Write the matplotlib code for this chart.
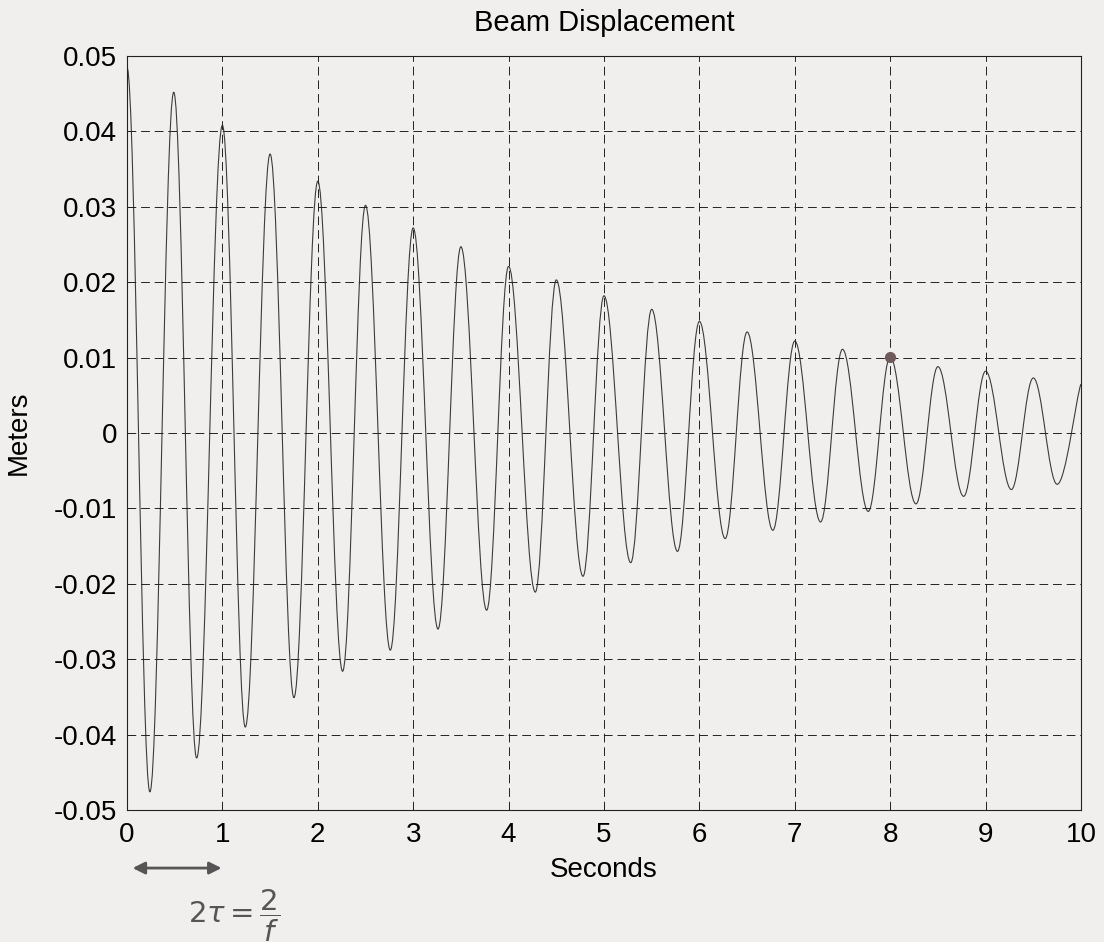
import matplotlib
matplotlib.use("Agg")
import matplotlib.pyplot as plt
from matplotlib.path import Path
from matplotlib.patches import PathPatch
import numpy as np

# peaks / troughs of the trace
peak_t = [0.0, 0.49, 1.00, 1.50, 2.00, 2.50, 3.00, 3.50, 4.00, 4.50,
          5.00, 5.50, 6.00, 6.50, 7.00, 7.50, 8.00, 8.50, 9.00, 9.50]
peak_v = [0.0485, 0.0452, 0.0408, 0.0370, 0.0334, 0.0302, 0.0272, 0.0247, 0.0221, 0.0203,
          0.0182, 0.0164, 0.0148, 0.0134, 0.0122, 0.0111, 0.0101, 0.0088, 0.0082, 0.0073]
trough_t = [0.24, 0.73, 1.24, 1.75, 2.26, 2.76, 3.26, 3.77, 4.28, 4.78,
            5.28, 5.77, 6.27, 6.77, 7.27, 7.77, 8.27, 8.77, 9.27, 9.75]
trough_v = [-0.0476, -0.0431, -0.0390, -0.0351, -0.0316, -0.0288, -0.0260, -0.0235, -0.0211, -0.0190,
            -0.0172, -0.0157, -0.0140, -0.0129, -0.0118, -0.0104, -0.0094, -0.0084, -0.0075, -0.0068]
# where the trace stops at the right edge (still rising)
end_t = [10.0]
end_v = [0.0065]

# hand-marked point
mark_t = [8.0]
mark_v = [0.0101]

xticks = list(range(0, 11))
yticks = [-0.05, -0.04, -0.03, -0.02, -0.01, 0, 0.01, 0.02, 0.03, 0.04, 0.05]
ytick_labels = ['-0.05', '-0.04', '-0.03', '-0.02', '-0.01', '0',
                '0.01', '0.02', '0.03', '0.04', '0.05']

paper = '#f0efed'
plt.rcParams['font.family'] = ['Liberation Sans', 'DejaVu Sans']
plt.rcParams['font.size'] = 20

fig = plt.figure(figsize=(11.04, 9.42), dpi=100, facecolor=paper)
W, H = 1104, 942
ax = fig.add_axes([127 / W, 1 - 810 / H, (1081 - 127) / W, (810 - 56) / H])
ax.set_facecolor(paper)

t = np.array(peak_t + trough_t)
v = np.array(peak_v + trough_v)
order = np.argsort(t)
t, v = t[order], v[order]

# smooth the trace between extremes with cubic curves (flat at each extreme)
verts = [(t[0], v[0])]
codes = [Path.MOVETO]
for i in range(len(t) - 1):
    dt = t[i + 1] - t[i]
    verts += [(t[i] + 0.363 * dt, v[i]), (t[i + 1] - 0.363 * dt, v[i + 1]), (t[i + 1], v[i + 1])]
    codes += [Path.CURVE4] * 3
dt = end_t[0] - t[-1]
verts += [(t[-1] + 0.363 * dt, v[-1]), (end_t[0] - 0.2 * dt, end_v[0] - 0.0015), (end_t[0], end_v[0])]
codes += [Path.CURVE4] * 3
ax.add_patch(PathPatch(Path(verts, codes), fill=False, edgecolor='#3c3c3c', lw=0.8))
ax.plot(mark_t, mark_v, 'o', color='#6e5a5a', ms=7, zorder=5)

ax.set_xlim(0, 10)
ax.set_ylim(-0.05, 0.05)
ax.set_xticks(xticks)
ax.set_yticks(yticks)
ax.set_yticklabels(ytick_labels)
ax.grid(True, color='#222222', lw=0.7, ls=(0, (9, 5)))
ax.tick_params(direction='in', length=5, width=0.7, color='#222222')
ax.tick_params(axis='x', pad=9)
ax.tick_params(axis='y', pad=7)
for s in ax.spines.values():
    s.set_linewidth(0.8)
    s.set_color('#222222')

ax.set_title('Beam Displacement', pad=18, fontsize=21)
ax.set_xlabel('Seconds', labelpad=6)
ax.set_ylabel('Meters')
ax.yaxis.set_label_coords(-0.10, 0.5)

# handwritten note under the axis
ax.annotate('', xy=(1.02, -0.077), xytext=(0.03, -0.077),
            xycoords=ax.get_xaxis_transform(), textcoords=ax.get_xaxis_transform(),
            arrowprops=dict(arrowstyle='<|-|>', color='#555555', lw=2, mutation_scale=18),
            annotation_clip=False)
ax.text(1.12, -0.14, r'$2\tau = \dfrac{2}{f}$', transform=ax.get_xaxis_transform(),
        ha='center', va='center', fontsize=21, color='#555555', clip_on=False)

fig.savefig('out.png', dpi=100, facecolor=paper)
